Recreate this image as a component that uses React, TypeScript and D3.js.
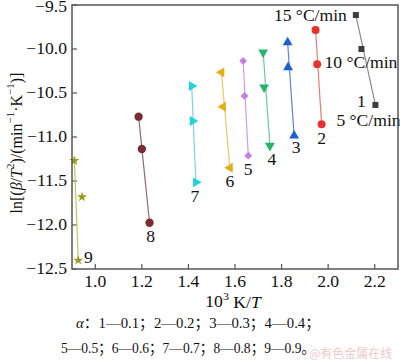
import React from "react";
import * as d3 from "d3";

const seriesIds = ["1", "2", "3", "4", "5", "6", "7", "8", "9"];
// points ordered 15, 10, 5 °C/min
const xValues: number[][] = [
  [2.119, 2.143, 2.203],
  [1.946, 1.953, 1.972],
  [1.826, 1.828, 1.854],
  [1.721, 1.725, 1.75],
  [1.635, 1.641, 1.657],
  [1.542, 1.549, 1.578],
  [1.414, 1.418, 1.432],
  [1.186, 1.2, 1.233],
  [0.91, 0.943, 0.927],
];
const yValues: number[][] = [
  [-9.614, -10.0, -10.636],
  [-9.784, -10.174, -10.856],
  [-9.924, -10.208, -10.985],
  [-10.038, -10.435, -11.099],
  [-10.136, -10.534, -11.213],
  [-10.265, -10.656, -11.349],
  [-10.42, -10.818, -11.515],
  [-10.769, -11.136, -11.974],
  [-11.269, -11.682, -12.401],
];
const rateLabels = ["15 °C/min", "10 °C/min", "5 °C/min"];
const xTicks = [1.0, 1.2, 1.4, 1.6, 1.8, 2.0, 2.2];
const yTicks = [-9.5, -10.0, -10.5, -11.0, -11.5, -12.0, -12.5];

const markerColors = ["#3d3d3d", "#e8302c", "#1c5fd4", "#23b46a", "#c47ce6", "#e2ae1a", "#1fd2dc", "#7a2c34", "#9c9c1c"];
const lineColors = ["#8a8a8a", "#e77a78", "#5d84d6", "#6ccb98", "#c9a0e2", "#e6c760", "#6fdbe2", "#8f6a6a", "#c4c45a"];
const symbols = [d3.symbolSquare, d3.symbolCircle, d3.symbolTriangle, d3.symbolTriangle, d3.symbolSquare, d3.symbolTriangle, d3.symbolTriangle, d3.symbolCircle, d3.symbolStar];
const rotations = [0, 0, 0, 180, 45, -90, 90, 0, 0];
const sizes = [36, 50, 42, 42, 30, 42, 42, 55, 32];
const labelOffsets: [number, number][] = [[-14, -3], [0, 14], [2, 12], [2, 14], [0, 14], [0, 14], [-1, 14], [1, 14], [10, -3]];
const rateOffsets: [number, number, string][] = [[-9, 1, "end"], [-37, 14, "start"], [-39, 16, "start"]];

const FONT = "'Liberation Serif', 'Times New Roman', 'Noto Sans CJK SC', serif";

const L = 72, R = 398, T = 5, B = 269;

export default function App() {
  const x = d3.scaleLinear().domain([0.9, 2.3]).range([L, R]);
  const y = d3.scaleLinear().domain([-12.5, -9.5]).range([B, T]);
  const fs = 16;
  const sx = 1.1;

  const Txt = (props: { x: number; y: number; anchor?: string; children: React.ReactNode; size?: number; italic?: boolean }) => (
    <g transform={`translate(${props.x},${props.y}) scale(${sx},1)`}>
      <text x={0} y={0} textAnchor={props.anchor || "middle"} dominantBaseline="central" fontSize={props.size || fs} fontFamily={FONT} fill="#111" fontStyle={props.italic ? "italic" : "normal"}>
        {props.children}
      </text>
    </g>
  );

  return (
    <svg width={400} height={362} style={{ position: "absolute", left: 0, top: 0, background: "#fff" }}>
      <rect x={0} y={0} width={400} height={362} fill="#fff" />
      {/* ticks */}
      {xTicks.map((t) => (
        <line key={"xt" + t} x1={x(t)} x2={x(t)} y1={B} y2={B - 5} stroke="#555" strokeWidth={1.2} />
      ))}
      {yTicks.map((t) => (
        <line key={"yt" + t} x1={L} x2={L + 5} y1={y(t)} y2={y(t)} stroke="#555" strokeWidth={1.2} />
      ))}
      {xTicks.map((t) => (
        <Txt key={"xl" + t} x={x(t)} y={B + 13}>{t.toFixed(1)}</Txt>
      ))}
      {yTicks.map((t) => (
        <Txt key={"yl" + t} x={L - 5} y={Math.max(y(t), 7)} anchor="end">{"\u2212" + Math.abs(t).toFixed(1)}</Txt>
      ))}
      {/* lines */}
      {seriesIds.map((id, i) => {
        const xs = xValues[i], ys = yValues[i];
        const line = d3.line<number>().x((_, k) => x(xs[k === 0 ? 0 : 2])).y((_, k) => y(ys[k === 0 ? 0 : 2]));
        return <path key={"l" + id} d={line([0, 1]) || ""} stroke={lineColors[i]} strokeWidth={1.2} fill="none" />;
      })}
      {/* markers */}
      {seriesIds.map((id, i) =>
        xValues[i].map((xv, k) => (
          <path
            key={"m" + id + k}
            d={d3.symbol().type(symbols[i]).size(sizes[i])() || ""}
            transform={`translate(${x(xv)},${y(yValues[i][k])}) rotate(${rotations[i]})`}
            fill={markerColors[i]}
          />
        ))
      )}
      {/* series labels */}
      {seriesIds.map((id, i) => (
        <Txt key={"sl" + id} x={x(xValues[i][2]) + labelOffsets[i][0]} y={y(yValues[i][2]) + labelOffsets[i][1]}>{id}</Txt>
      ))}
      {rateLabels.map((lab, k) => (
        <Txt key={"rl" + k} x={x(xValues[0][k]) + rateOffsets[k][0]} y={y(yValues[0][k]) + rateOffsets[k][1]} anchor={rateOffsets[k][2]}>{lab}</Txt>
      ))}
      {/* frame */}
      <rect x={L} y={T} width={R - L} height={B - T} fill="none" stroke="#555" strokeWidth={1.5} />
      {/* axis titles */}
      <Txt x={233} y={302}>
        10<tspan dy={-6} fontSize={11}>3</tspan><tspan dy={6}> K/</tspan><tspan fontStyle="italic">T</tspan>
      </Txt>
      <g transform="translate(16,143) rotate(-90)">
        <text x={0} y={0} textAnchor="middle" dominantBaseline="central" fontSize={fs} fontFamily={FONT} fill="#111">
          ln[(<tspan fontStyle="italic">β</tspan>/<tspan fontStyle="italic">T</tspan>
          <tspan dy={-6} fontSize={11}>2</tspan>
          <tspan dy={6}>)/(min</tspan>
          <tspan dy={-6} fontSize={11}>−1</tspan>
          <tspan dy={6}>·K</tspan>
          <tspan dy={-6} fontSize={11}>−1</tspan>
          <tspan dy={6}>)]</tspan>
        </text>
      </g>
      {/* caption */}
      <text x={76} y={323} dominantBaseline="central" fontSize={15} fontFamily={FONT} fill="#111" textLength={244} lengthAdjust="spacingAndGlyphs">
        <tspan fontStyle="italic">α</tspan>：1—0.1；2—0.2；3—0.3；4—0.4；
      </text>
      <text x={61} y={348} dominantBaseline="central" fontSize={15} fontFamily={FONT} fill="#111" textLength={254} lengthAdjust="spacingAndGlyphs">
        5—0.5；6—0.6；7—0.7；8—0.8；9—0.9。
      </text>
      <text x={309} y={352} dominantBaseline="central" fontSize={12} fontFamily="'Noto Sans CJK SC', sans-serif" fill="#e7b8b8" opacity={0.75}>
        @有色金属在线
      </text>
    </svg>
  );
}
